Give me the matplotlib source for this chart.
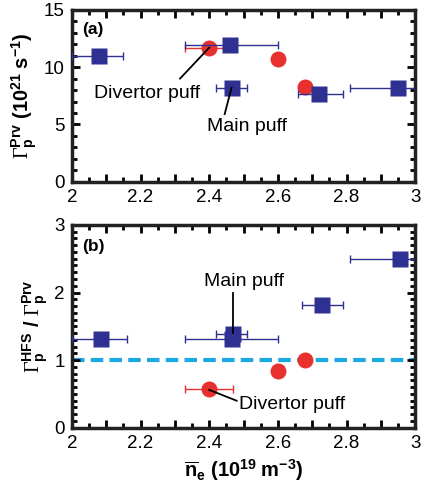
import numpy as np
import matplotlib
matplotlib.use('Agg')
import matplotlib.pyplot as plt
from matplotlib.ticker import MultipleLocator, FuncFormatter

plt.rcParams['font.family'] = ['Liberation Sans', 'DejaVu Sans']
plt.rcParams['mathtext.fontset'] = 'custom'
plt.rcParams['mathtext.rm'] = 'Liberation Serif'
plt.rcParams['mathtext.bf'] = 'Liberation Sans:bold'
plt.rcParams['mathtext.it'] = 'Liberation Serif:italic'

# (a) private flux
main_ne_a = [2.08, 2.46, 2.465, 2.72, 2.95]
main_err_lo_a = [0.08, 0.13, 0.045, 0.06, 0.14]
main_err_hi_a = [0.07, 0.14, 0.045, 0.07, 0.10]
main_prv = [11.0, 11.9, 8.2, 7.7, 8.2]

div_ne_a = [2.40, 2.60, 2.68]
div_err_lo_a = [0.07, 0, 0]
div_err_hi_a = [0.07, 0, 0]
div_prv = [11.7, 10.7, 8.3]

# (b) ratio HFS / Prv
main_ne_b = [2.085, 2.465, 2.47, 2.73, 2.955]
main_err_lo_b = [0.085, 0.135, 0.05, 0.06, 0.145]
main_err_hi_b = [0.075, 0.135, 0.04, 0.06, 0.10]
main_ratio = [1.32, 1.32, 1.39, 1.81, 2.49]

div_ne_b = [2.40, 2.60, 2.68]
div_err_lo_b = [0.07, 0, 0]
div_err_hi_b = [0.07, 0, 0]
div_ratio = [0.58, 0.84, 1.0]

blue = '#2e3192'
red = '#e8312f'
cyan = '#1aa9e1'

fig = plt.figure(figsize=(4.28, 4.90), dpi=100)
ax1 = fig.add_axes([0.168, 0.629, 0.802, 0.351])
ax2 = fig.add_axes([0.168, 0.127, 0.802, 0.414])


def style(ax, ymaj, ymin):
    ax.set_xlim(2, 3)
    ax.xaxis.set_major_locator(MultipleLocator(0.1))
    ax.xaxis.set_minor_locator(MultipleLocator(0.05))
    ax.xaxis.set_major_formatter(FuncFormatter(
        lambda v, p: ('%g' % round(v, 1)) if abs(round(v * 10) % 2) == 0 else ''))
    ax.yaxis.set_major_locator(MultipleLocator(ymaj))
    ax.yaxis.set_minor_locator(MultipleLocator(ymin))
    ax.tick_params(which='both', direction='in', top=True, right=True,
                   labelsize=13.5, width=2)
    ax.tick_params(which='major', length=6, pad=5)
    ax.tick_params(which='minor', length=3.5)
    for s in ax.spines.values():
        s.set_linewidth(2.5)
        s.set_color('#222222')


def draw(ax, mx, mlo, mhi, my, dx, dlo, dhi, dy):
    ax.errorbar(dx, dy, xerr=[dlo, dhi], fmt='none', ecolor=red, elinewidth=1,
                capsize=3, capthick=1, zorder=2)
    ax.plot(dx, dy, 'o', color=red, ms=11.5, mec='none', zorder=3)
    ax.errorbar(mx, my, xerr=[mlo, mhi], fmt='none', ecolor=blue, elinewidth=1,
                capsize=3, capthick=1, zorder=4)
    ax.plot(mx, my, 's', color=blue, ms=12, mec='none', zorder=5)


style(ax1, 5, 1)
ax1.set_ylim(0, 15)
draw(ax1, main_ne_a, main_err_lo_a, main_err_hi_a, main_prv,
     div_ne_a, div_err_lo_a, div_err_hi_a, div_prv)
ax1.text(0.03, 0.93, '(a)', transform=ax1.transAxes, fontsize=12.5,
         fontweight='bold', va='top')
ax1.plot([2.40, 2.315], [11.7, 9.0], color='black', lw=1.3, zorder=6)
ax1.text(2.22, 7.7, 'Divertor puff', fontsize=14, ha='center', va='center')
ax1.plot([2.465, 2.445], [8.2, 5.9], color='black', lw=1.3, zorder=6)
ax1.text(2.51, 4.8, 'Main puff', fontsize=14, ha='center', va='center')
ax1.set_ylabel(r'$\Gamma_\mathbf{p}^\mathbf{Prv}$ $\mathbf{(10^{21}\ s^{-1})}$',
               fontsize=14.5, labelpad=3)

style(ax2, 1, 0.1)
ax2.set_ylim(0, 3)
ax2.axhline(1.0, color=cyan, lw=3, ls=(0, (3, 1.5)), zorder=1)
draw(ax2, main_ne_b, main_err_lo_b, main_err_hi_b, main_ratio,
     div_ne_b, div_err_lo_b, div_err_hi_b, div_ratio)
ax2.text(0.03, 0.93, '(b)', transform=ax2.transAxes, fontsize=12.5,
         fontweight='bold', va='top')
ax2.plot([2.47, 2.47], [2.0, 1.4], color='black', lw=1.3, zorder=6)
ax2.text(2.50, 2.17, 'Main puff', fontsize=14, ha='center', va='center')
ax2.plot([2.40, 2.48], [0.56, 0.40], color='black', lw=1.3, zorder=6)
ax2.text(2.64, 0.34, 'Divertor puff', fontsize=14, ha='center', va='center')
ax2.set_ylabel(r'$\Gamma_\mathbf{p}^\mathbf{HFS}$ $\mathbf{/}$ $\Gamma_\mathbf{p}^\mathbf{Prv}$',
               fontsize=14.5, labelpad=3)
ax2.set_xlabel(r'$\mathbf{\overline{n}_e}$ $\mathbf{(10^{19}\ m^{-3})}$', fontsize=14.5)

fig.savefig('out.png', dpi=100)
